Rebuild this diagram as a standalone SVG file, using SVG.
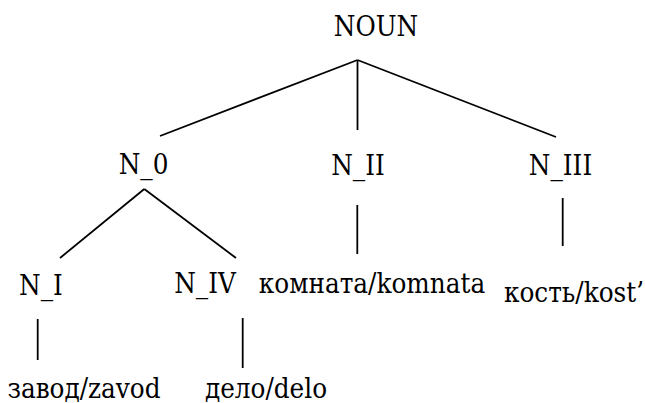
<svg xmlns="http://www.w3.org/2000/svg" width="645" height="403" viewBox="0 0 645 403">
<style>
text{font-family:'DejaVu Serif',serif;font-stretch:condensed;font-size:27.5px;fill:#000;text-anchor:middle}
.c line{stroke:#000;stroke-width:1.8;stroke-linecap:butt}
</style>
<rect width="645" height="403" fill="#fff"/>
<g class="c" id="connectors">
<line x1="357.5" y1="60" x2="160" y2="136"/>
<line x1="357.5" y1="60" x2="357.5" y2="130"/>
<line x1="357.5" y1="60" x2="556" y2="137"/>
<line x1="144.3" y1="189" x2="60" y2="258"/>
<line x1="144.3" y1="189" x2="236" y2="258"/>
<line x1="37.7" y1="319" x2="37.7" y2="360"/>
<line x1="242.7" y1="318" x2="242.7" y2="368"/>
<line x1="357.3" y1="205" x2="357.3" y2="254"/>
<line x1="562.7" y1="198" x2="562.7" y2="246"/>
</g>
<g id="noun"><text x="376" y="36">NOUN</text></g>
<g id="n0"><text x="143.5" y="174">N_0</text></g>
<g id="n2"><text x="358" y="175">N_II</text></g>
<g id="n3"><text x="560.5" y="175">N_III</text></g>
<g id="n1"><text x="41" y="295">N_I</text></g>
<g id="n4"><text x="205" y="293">N_IV</text></g>
<g id="komnata"><text x="372" y="293">комната/komnata</text></g>
<g id="kost"><text x="574" y="302">кость/kost’</text></g>
<g id="zavod"><text x="84" y="398">завод/zavod</text></g>
<g id="delo"><text x="266" y="398">дело/delo</text></g>
</svg>
